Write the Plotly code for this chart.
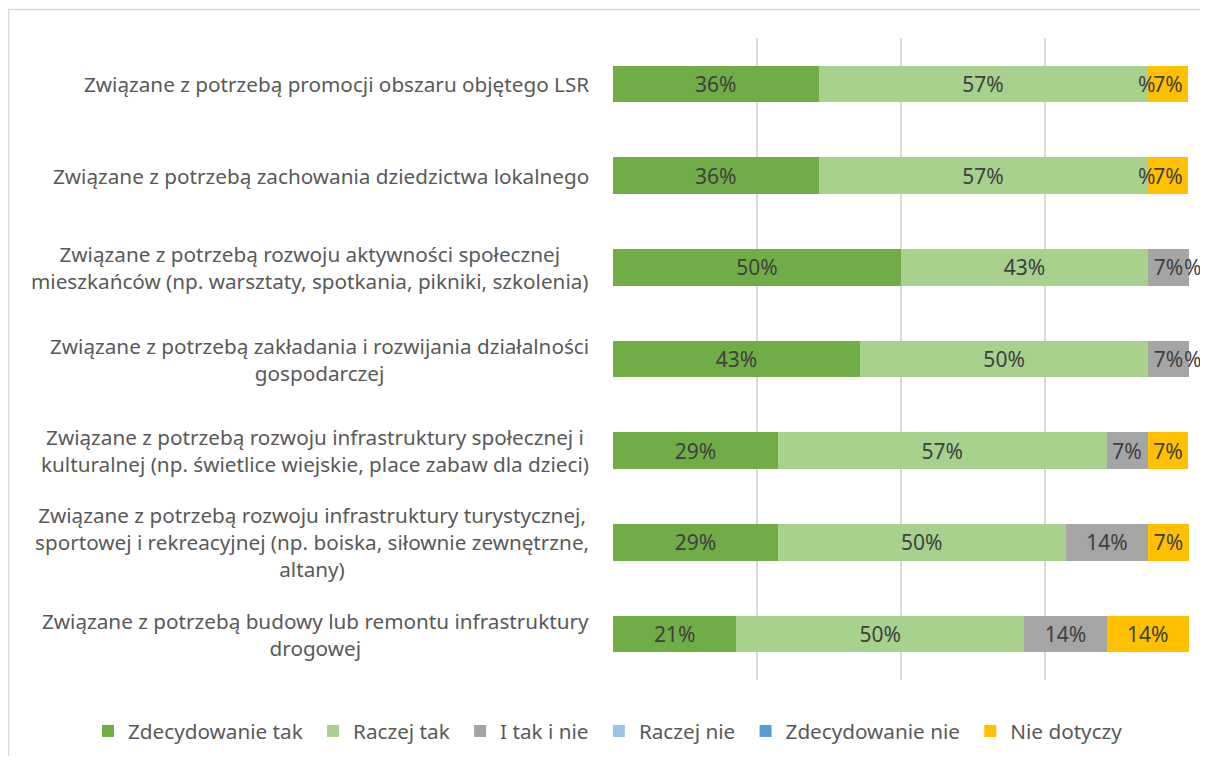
import plotly.graph_objects as go

categories = [
    "Związane z potrzebą promocji obszaru objętego LSR",
    "Związane z potrzebą zachowania dziedzictwa lokalnego",
    "Związane z potrzebą rozwoju aktywności społecznej\nmieszkańców (np. warsztaty, spotkania, pikniki, szkolenia)",
    "Związane z potrzebą zakładania i rozwijania działalności\ngospodarczej",
    "Związane z potrzebą rozwoju infrastruktury społecznej i\nkulturalnej (np. świetlice wiejskie, place zabaw dla dzieci)",
    "Związane z potrzebą rozwoju infrastruktury turystycznej,\nsportowej i rekreacyjnej (np. boiska, siłownie zewnętrzne,\naltany)",
    "Związane z potrzebą budowy lub remontu infrastruktury\ndrogowej",
]

series_names = ["Zdecydowanie tak", "Raczej tak", "I tak i nie", "Raczej nie", "Zdecydowanie nie", "Nie dotyczy"]
zdecydowanie_tak = [35.7, 35.7, 50.0, 42.9, 28.6, 28.6, 21.4]
raczej_tak = [57.1, 57.1, 42.9, 50.0, 57.1, 50.0, 50.0]
i_tak_i_nie = [0.0, 0.0, 7.1, 7.1, 7.1, 14.3, 14.3]
raczej_nie = [0.0, 0.0, 0.0, 0.0, 0.0, 0.0, 0.0]
zdecydowanie_nie = [0.0, 0.0, 0.0, 0.0, 0.0, 0.0, 0.0]
nie_dotyczy = [7.1, 7.1, 0.0, 0.0, 7.1, 7.1, 14.3]
series_values = [zdecydowanie_tak, raczej_tak, i_tak_i_nie, raczej_nie, zdecydowanie_nie, nie_dotyczy]
colors = ["#70AD47", "#A9D18E", "#A5A5A5", "#9DC3E6", "#5B9BD5", "#FFC000"]

FONT = "Noto Sans"
LABEL_SIZE = 20.7
BAR_SIZE = 21
ycats = [c.replace("\n", " ") for c in categories]

# page body has an 8px margin; figure is sized so the plot lands where the reference has it
W, H = 1200, 748
ML, MR, MT, MB = 605, 19, 30, 76
PW = W - ML - MR          # 576
PH = H - MT - MB          # 642

def px_x(p):  # screen x pixel -> paper x
    return (p - 8 - ML) / PW

def px_y(p):  # screen y pixel -> paper y
    return (H - MB - (p - 8)) / PH

fig = go.Figure()
for name, vals, col in zip(series_names, series_values, colors):
    fig.add_trace(go.Bar(
        name=name + "&nbsp;", y=ycats, x=vals, orientation="h",
        marker=dict(color=col, line=dict(width=0)),
        width=0.4,
        text=[f"{v:.0f}%" if v > 0 else "" for v in vals],
        textposition="inside", insidetextanchor="middle", textangle=0,
        constraintext="none",
        textfont=dict(family=FONT, size=BAR_SIZE, color="#404040"),
        hoverinfo="skip",
    ))

annotations = []
for cat, yc in zip(categories, ycats):
    annotations.append(dict(
        x=px_x(591), xref="paper", y=yc, yref="y", xanchor="right", yanchor="middle",
        align="center", text=cat.replace("\n", "<br>"), showarrow=False,
        font=dict(family=FONT, size=LABEL_SIZE, color="#595959"),
    ))

# stray partially-hidden labels of zero-width segments visible in the reference
stray_pos = [(0, 92.6, 0), (1, 92.6, 0), (2, 100.0, 3), (3, 100.0, 3)]
for idx, xv, shift in stray_pos:
    annotations.append(dict(
        x=xv, y=ycats[idx], xref="x", yref="y", text="%", showarrow=False,
        xanchor="center", xshift=shift,
        font=dict(family=FONT, size=BAR_SIZE, color="#404040"),
    ))

fig.update_layout(
    width=W, height=H,
    margin=dict(l=ML, r=MR, t=MT, b=MB, autoexpand=False),
    barmode="stack",
    plot_bgcolor="white", paper_bgcolor="white",
    showlegend=True,
    legend=dict(orientation="h", x=px_x(88), xanchor="left", y=px_y(731), yanchor="middle",
                font=dict(family=FONT, size=LABEL_SIZE, color="#595959"),
                itemsizing="constant", traceorder="normal", tracegroupgap=0),
    xaxis=dict(range=[0, 100], tickvals=[0, 25, 50, 75, 100], showticklabels=False,
               showgrid=True, gridcolor="#D9D9D9", gridwidth=1.5, zeroline=False,
               showline=False, fixedrange=True),
    yaxis=dict(categoryorder="array", categoryarray=ycats, autorange="reversed",
               showticklabels=False, showgrid=False, zeroline=False, showline=False),
    annotations=annotations,
    shapes=[dict(type="rect", xref="paper", yref="paper",
                 x0=px_x(8.5), x1=px_x(1230),
                 y0=px_y(790), y1=px_y(9.5),
                 line=dict(color="#D9D9D9", width=1.5), layer="below")],
)

fig.write_html("out.html")
